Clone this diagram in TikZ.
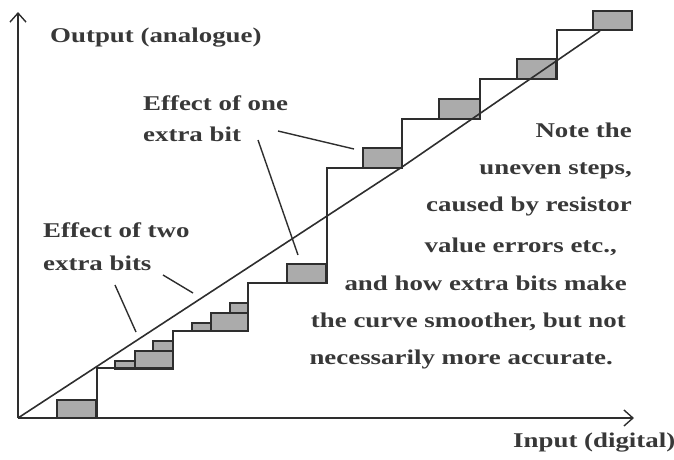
\documentclass[tikz,border=0pt]{standalone}
\usepackage{fontspec}
\setmainfont{Liberation Serif}[FakeStretch=1.28]
\usetikzlibrary{arrows.meta}
\definecolor{ink}{HTML}{2E2E2E}
\definecolor{txt}{HTML}{383838}
\definecolor{boxfill}{HTML}{ABABAB}
\tikzset{
  lbl/.style={inner sep=0pt, text=txt, font=\fontsize{21}{24}\selectfont\bfseries},
  axis/.style={draw=ink, line width=1.6pt, -{Straight Barb[length=9pt,width=16pt,line width=1.4pt]}},
  stair/.style={draw=ink, line width=1.3pt},
  bitbox/.style={draw=ink, fill=boxfill, line width=1.5pt},
  pointer/.style={draw=ink, line width=1.4pt},
  diag/.style={draw=ink, line width=1.6pt, line join=round}
}
\begin{document}
\begin{tikzpicture}[x=1pt,y=-1pt]
\useasboundingbox (0,0) rectangle (674,459);
% coordinates
\coordinate (O) at (18,418);
\coordinate (ytop) at (18,12);
\coordinate (xend) at (634,418);
\coordinate (dmid) at (402,167);
\coordinate (dend) at (600,31);
% boxes (one extra bit)
\path[bitbox] (57,400) rectangle (96,418);
\path[bitbox] (287,264) rectangle (326,283);
\path[bitbox] (363,148) rectangle (402,168);
\path[bitbox] (439,99) rectangle (480,119);
\path[bitbox] (517,59) rectangle (556,79);
\path[bitbox] (593,11) rectangle (632,30);
% boxes (two extra bits)
\path[bitbox] (115,361) rectangle (135,369);
\path[bitbox] (135,351) rectangle (173,369);
\path[bitbox] (153,341) rectangle (173,351);
\path[bitbox] (192,323) rectangle (211,331);
\path[bitbox] (211,313) rectangle (248,331);
\path[bitbox] (230,303) rectangle (248,313);
% main staircase
\draw[stair] (97,418) -- (97,368) -- (173,368) -- (173,331) -- (248,331) -- (248,283)
  -- (327,283) -- (327,168) -- (402,168) -- (402,119) -- (480,119) -- (480,79)
  -- (557,79) -- (557,30) -- (593,30);
% diagonal
\draw[diag] (O) -- (dmid) -- (dend);
% axes
\draw[axis] (O) -- (ytop);
\draw[axis] (O) -- (xend);
% labels
\node[lbl, anchor=base west] (ylab) at (50,42) {Output (analogue)};
\node[lbl, anchor=base west] (xlab) at (513,447) {Input (digital)};
\node[lbl, anchor=base west] (one1) at (143,110) {Effect of one};
\node[lbl, anchor=base west] (one2) at (143,141) {extra bit};
\node[lbl, anchor=base west] (two1) at (43,237) {Effect of two};
\node[lbl, anchor=base west] (two2) at (43,270) {extra bits};
\node[lbl, anchor=base east] (n1) at (632,137) {Note the};
\node[lbl, anchor=base east] (n2) at (632,174) {uneven steps,};
\node[lbl, anchor=base east] (n3) at (632,211) {caused by resistor};
\node[lbl, anchor=base east] (n4) at (617,252) {value errors etc.,};
\node[lbl, anchor=base east] (n5) at (627,290) {and how extra bits make};
\node[lbl, anchor=base east] (n6) at (626,327) {the curve smoother, but not};
\node[lbl, anchor=base east] (n7) at (613,364) {necessarily more accurate.};
% pointers
\coordinate (p1a) at (278,131); \coordinate (p1b) at (354,149);
\coordinate (p2a) at (258,140); \coordinate (p2b) at (298,255);
\coordinate (p3a) at (115,285); \coordinate (p3b) at (136,332);
\coordinate (p4a) at (163,275); \coordinate (p4b) at (193,293);
\draw[pointer] (p1a) -- (p1b);
\draw[pointer] (p2a) -- (p2b);
\draw[pointer] (p3a) -- (p3b);
\draw[pointer] (p4a) -- (p4b);
\end{tikzpicture}
\end{document}
